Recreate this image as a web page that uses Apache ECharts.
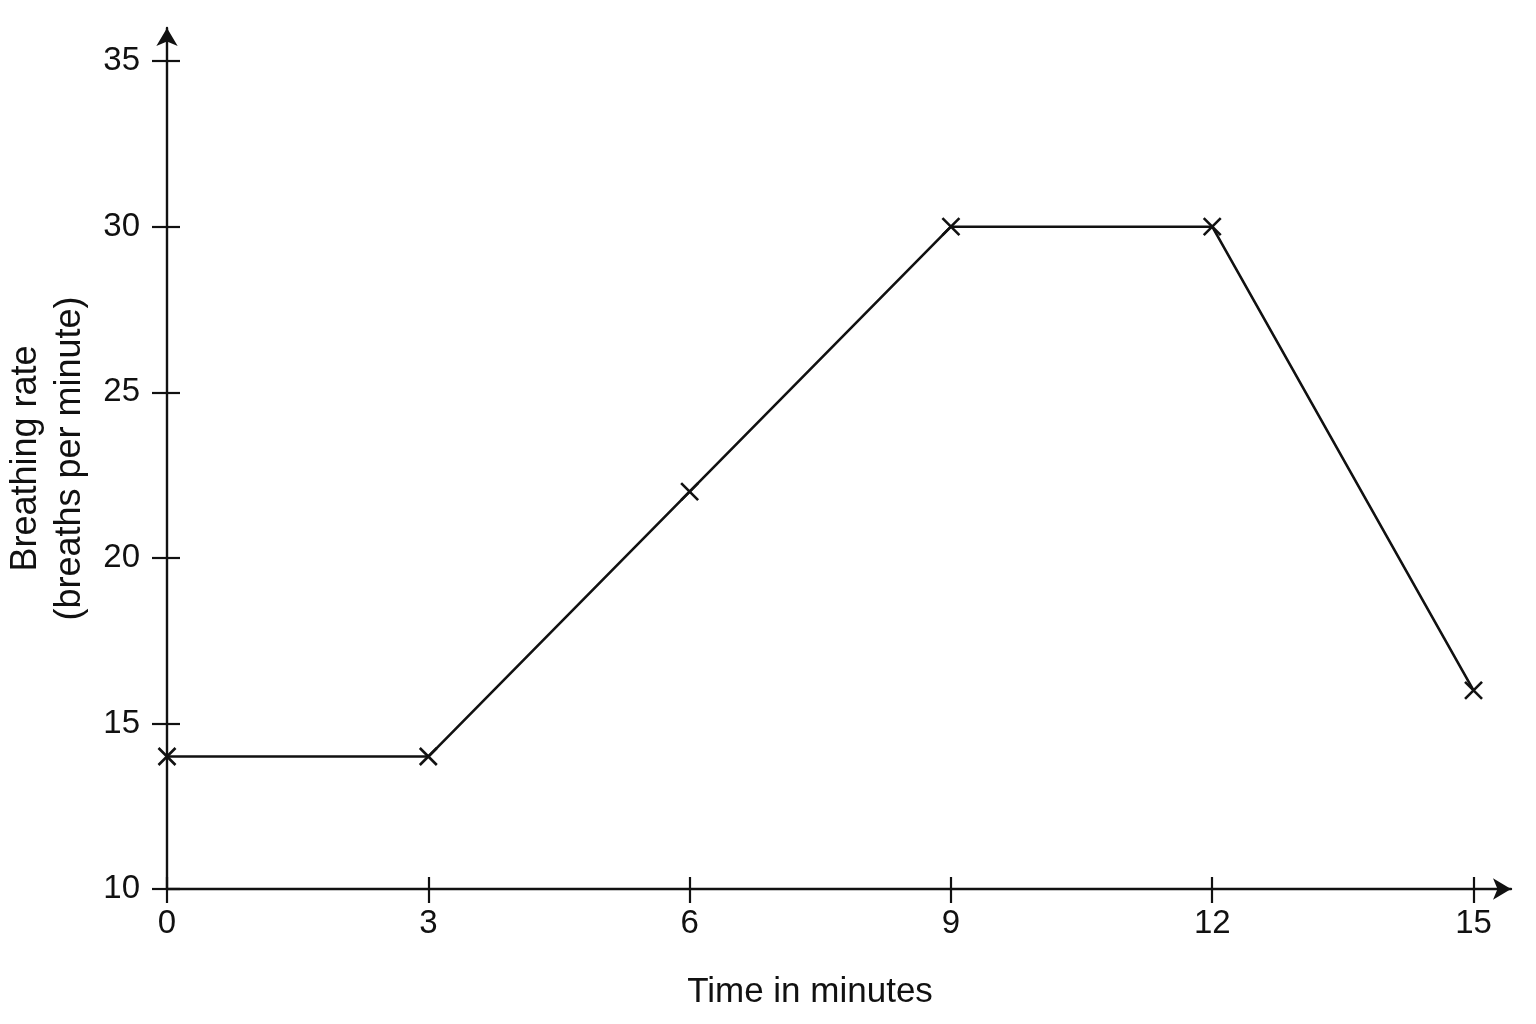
<!DOCTYPE html>
<html>
<head>
<meta charset="utf-8">
<script src="https://cdn.jsdelivr.net/npm/echarts@6/dist/echarts.min.js"></script>
<style>
html,body{margin:0;padding:0;background:#fff;}
#chart{width:1536px;height:1024px;}
</style>
</head>
<body>
<div id="chart"></div>
<script>
// Data
var timeMinutes = [0, 3, 6, 9, 12, 15];
var breathingRate = [14, 14, 22, 30, 30, 16];
var xTicks = [0, 3, 6, 9, 12, 15];
var yTicks = [10, 15, 20, 25, 30, 35];

var FONT = '"Liberation Sans", Arial, sans-serif';
var INK = '#111';

var points = timeMinutes.map(function (t, i) { return [t, breathingRate[i]]; });

var chart = echarts.init(document.getElementById('chart'), null, { renderer: 'canvas' });

var xRange = { min: 0, max: 15.43 };
var yRange = { min: 10, max: 36 };

chart.setOption({
  backgroundColor: '#fff',
  animation: false,
  grid: { left: 167, right: 25, top: 28, bottom: 135, containLabel: false, outerBoundsMode: 'none' },
  xAxis: [
    {
      type: 'value', min: xRange.min, max: xRange.max, interval: 3,
      splitLine: { show: false },
      axisLine: { show: true, onZero: false, lineStyle: { color: INK, width: 2.4 }, symbol: ['none', 'arrow'], symbolSize: [16, 18] },
      axisTick: { show: true, inside: false, length: 14, customValues: xTicks, lineStyle: { color: INK, width: 2.2 } },
      axisLabel: { show: true, customValues: xTicks, margin: 18, fontSize: 33, color: INK, fontFamily: FONT },
      name: 'Time in minutes', nameLocation: 'middle', nameGap: 86,
      nameTextStyle: { fontSize: 35, color: INK, fontFamily: FONT, padding: [0, 58, 0, 0] }
    },
    {
      type: 'value', min: xRange.min, max: xRange.max, interval: 3, position: 'bottom',
      splitLine: { show: false },
      axisLine: { show: false, onZero: false },
      axisTick: { show: true, inside: true, length: 12, customValues: xTicks, lineStyle: { color: INK, width: 2.2 } },
      axisLabel: { show: false }
    }
  ],
  yAxis: [
    {
      type: 'value', min: yRange.min, max: yRange.max, interval: 5,
      splitLine: { show: false },
      axisLine: { show: true, onZero: false, lineStyle: { color: INK, width: 2.4 }, symbol: ['none', 'arrow'], symbolSize: [16, 18] },
      axisTick: { show: true, inside: false, length: 15, customValues: yTicks, lineStyle: { color: INK, width: 2.2 } },
      axisLabel: { show: true, customValues: yTicks, margin: 27, fontSize: 33, color: INK, fontFamily: FONT },
      name: 'Breathing rate\n(breaths per minute)', nameLocation: 'middle', nameGap: 74, nameRotate: 90,
      nameTextStyle: { fontSize: 36, color: INK, fontFamily: FONT, lineHeight: 44, align: 'center' }
    },
    {
      type: 'value', min: yRange.min, max: yRange.max, interval: 5, position: 'left',
      splitLine: { show: false },
      axisLine: { show: false, onZero: false },
      axisTick: { show: true, inside: true, length: 13, customValues: yTicks, lineStyle: { color: INK, width: 2.2 } },
      axisLabel: { show: false }
    }
  ],
  series: [
    {
      type: 'line',
      data: points,
      xAxisIndex: 0,
      yAxisIndex: 0,
      symbol: 'path://M0,0L10,10M10,0L0,10',
      symbolSize: 17,
      showSymbol: true,
      lineStyle: { color: INK, width: 2.6 },
      itemStyle: { color: 'rgba(0,0,0,0)', borderColor: INK, borderWidth: 2.6 },
      emphasis: { disabled: true },
      z: 5
    }
  ]
});
</script>
</body>
</html>
